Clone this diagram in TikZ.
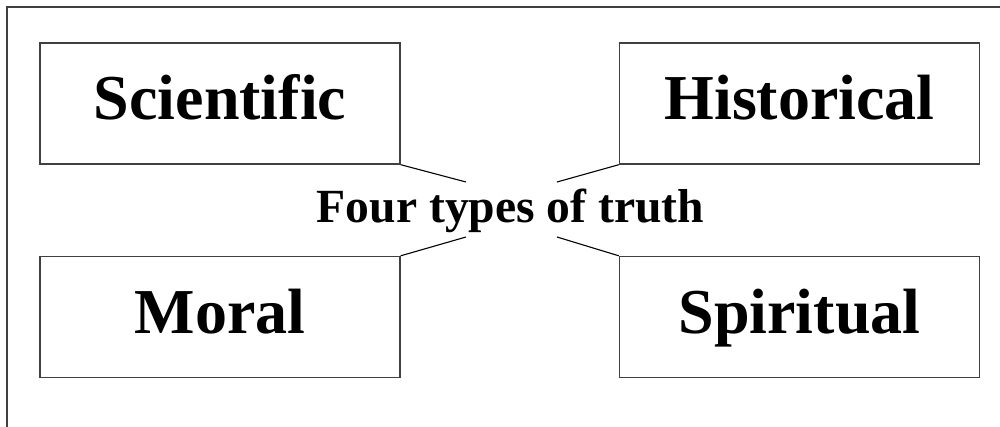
\documentclass[tikz,border=0pt]{standalone}
\usepackage{fontspec}
\setmainfont{Liberation Serif}
\begin{document}
\begin{tikzpicture}[x=0.5pt,y=-0.5pt,
  box/.style={draw=black!75,line width=0.7pt,rectangle,inner sep=0pt,
    minimum width=180pt,minimum height=60.5pt,font=\fontsize{32}{36}\selectfont\bfseries,
    text height=21.5pt,text depth=5pt},
  link/.style={draw=black,line width=0.55pt},
  frame/.style={draw=black!75,line width=0.7pt}]
\useasboundingbox (0,0) rectangle (1000,427);
\draw[frame] (1001,7) -- (7,7) -- (7,428);
\node[box] (sci) at (220,103.5) {Scientific};
\node[box] (his) at (799.5,103.5) {Historical};
\node[box] (mor) at (220,317) {Moral};
\node[box] (spi) at (799.5,317) {Spiritual};
\node[anchor=base,inner sep=0pt,font=\fontsize{23.8}{28}\selectfont\bfseries] (ttl) at (510.5,222.7) {Four types of truth};
\coordinate (a1) at (466,182);
\coordinate (a2) at (557,182);
\coordinate (a3) at (466,237);
\coordinate (a4) at (557,237);
\draw[link] (sci.south east) -- (a1);
\draw[link] (his.south west) -- (a2);
\draw[link] (mor.north east) -- (a3);
\draw[link] (spi.north west) -- (a4);
\end{tikzpicture}
\end{document}
